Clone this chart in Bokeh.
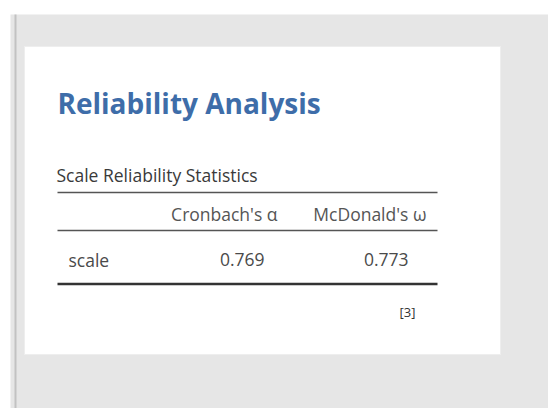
from bokeh.plotting import figure
from bokeh.models import Range1d
from bokeh.core.properties import value
from bokeh.embed import file_html
from bokeh.resources import INLINE

# ---- data ----
title = "Reliability Analysis"
table_title = "Scale Reliability Statistics"
col_headers = ["Cronbach's α", "McDonald's ω"]
row_labels = ["scale"]
cronbach_alpha = [0.769]
mcdonald_omega = [0.773]
footnote = "[3]"

FONT = value("Open Sans")
TS = "17.5px"

p = figure(width=548, height=408, output_backend="svg", toolbar_location=None,
           x_range=Range1d(0, 548), y_range=Range1d(408, 0),
           min_border=0, background_fill_color="white", border_fill_color="white")
p.axis.visible = False
p.grid.visible = False
p.outline_line_color = None

# page background
p.quad(left=10, right=548, top=14, bottom=408, fill_color="#e6e6e6", line_color=None)
p.quad(left=14, right=16, top=14, bottom=408, fill_color="#c2c2c2", line_color=None)
# results panel
p.quad(left=24, right=500, top=46, bottom=354, fill_color="white", line_color="#eeeeee", line_width=1)

# title
p.text(x=[57], y=[102], text=[title], text_font=FONT, text_font_style="bold",
       text_font_size="28px", text_color="#3e6da9", text_baseline="middle", text_align="left")

# table title
p.text(x=[56], y=[174], text=[table_title], text_font=FONT, text_font_size=TS,
       text_color="#3a3a3a", text_baseline="middle", text_align="left")

# rules
p.segment(x0=[57], x1=[437], y0=[192], y1=[192], line_color="#555555", line_width=1.3)
p.segment(x0=[57], x1=[437], y0=[230], y1=[230], line_color="#555555", line_width=1.3)
p.segment(x0=[57], x1=[437], y0=[283.5], y1=[283.5], line_color="#333333", line_width=2.5)

# headers
header_right = [277, 426]
p.text(x=header_right, y=[213, 213], text=col_headers, text_font=FONT, text_font_size=TS,
       text_color="#555555", text_baseline="middle", text_align="right")

# row
p.text(x=[68], y=[259], text=row_labels, text_font=FONT, text_font_size=TS,
       text_color="#4a4a4a", text_baseline="middle", text_align="left")
vals = [f"{cronbach_alpha[0]:.3f}", f"{mcdonald_omega[0]:.3f}"]
p.text(x=[264, 408], y=[259, 259], text=vals, text_font=FONT, text_font_size=TS,
       text_color="#4a4a4a", text_baseline="middle", text_align="right")

# footnote
p.text(x=[415], y=[311], text=[footnote], text_font=FONT, text_font_size="13px",
       text_color="#333333", text_baseline="middle", text_align="right")

open("out.html", "w").write(file_html(p, INLINE))
